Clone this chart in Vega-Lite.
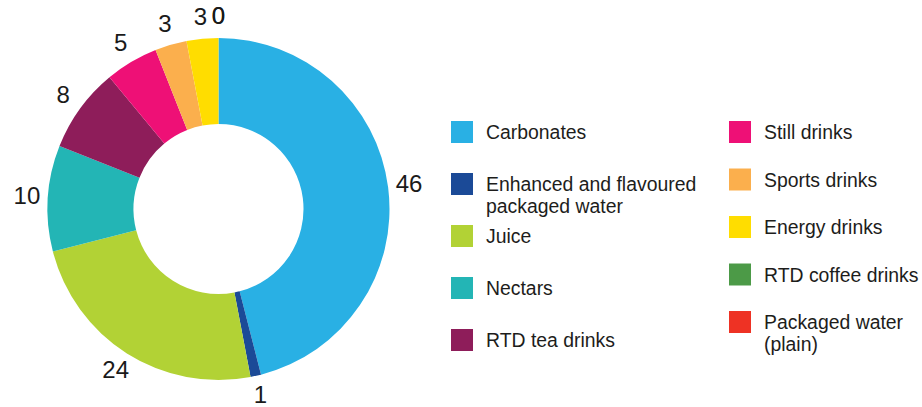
{
  "$schema": "https://vega.github.io/schema/vega-lite/v6.json",
  "padding": {"left": 0, "top": 5, "right": 0, "bottom": 0},
  "background": "white",
  "spacing": 0,
  "bounds": "flush",
  "config": {"view": {"stroke": null}, "font": "Liberation Sans"},
  "datasets": {
    "shares": [
      {"idx": 1, "category": "Carbonates", "value": 46},
      {"idx": 2, "category": "Enhanced and flavoured\npackaged water", "value": 1},
      {"idx": 3, "category": "Juice", "value": 24},
      {"idx": 4, "category": "Nectars", "value": 10},
      {"idx": 5, "category": "RTD tea drinks", "value": 8},
      {"idx": 6, "category": "Still drinks", "value": 5},
      {"idx": 7, "category": "Sports drinks", "value": 3},
      {"idx": 8, "category": "Energy drinks", "value": 3},
      {"idx": 9, "category": "RTD coffee drinks", "value": 0},
      {"idx": 10, "category": "Packaged water\n(plain)", "value": 0}
    ]
  },
  "hconcat": [
    {
      "width": 437,
      "height": 396,
      "data": {"name": "shares"},
      "encoding": {
        "theta": {"field": "value", "type": "quantitative", "stack": true},
        "order": {"field": "idx", "type": "quantitative"}
      },
      "layer": [
        {
          "mark": {"type": "arc", "outerRadius": 171, "innerRadius": 85},
          "encoding": {
            "color": {
              "field": "category",
              "type": "nominal",
              "scale": {
                "domain": ["Carbonates", "Enhanced and flavoured\npackaged water", "Juice", "Nectars", "RTD tea drinks", "Still drinks", "Sports drinks", "Energy drinks", "RTD coffee drinks", "Packaged water\n(plain)"],
                "range": ["#29B0E4", "#1B4A97", "#B2D235", "#23B5B5", "#8E1D5A", "#EE1076", "#FBAF4D", "#FFDD00", "#4C9A47", "#EE3224"]
              },
              "legend": null
            }
          }
        },
        {
          "mark": {"type": "text", "radius": 192, "fontSize": 24, "align": "center", "baseline": "middle", "color": "#1a1a1a"},
          "encoding": {
            "detail": {"field": "category", "type": "nominal"},
            "text": {"field": "value", "type": "quantitative"}
          }
        }
      ]
    },
    {
      "spacing": 228,
      "bounds": "flush",
      "hconcat": [
        {
          "width": 50,
          "height": 396,
          "data": {"name": "shares"},
          "transform": [{"filter": "datum.idx <= 5"}],
          "encoding": {
            "y": {
              "field": "category",
              "type": "nominal",
              "sort": ["Carbonates", "Enhanced and flavoured\npackaged water", "Juice", "Nectars", "RTD tea drinks"],
              "scale": {"type": "point", "padding": 0, "range": [121, 329]},
              "axis": null
            }
          },
          "layer": [
            {
              "mark": {"type": "square", "size": 484, "filled": true, "opacity": 1, "strokeWidth": 0},
              "encoding": {
                "color": {"field": "category", "type": "nominal", "legend": null}
              }
            },
            {
              "mark": {"type": "text", "align": "left", "baseline": "alphabetic", "dx": 24, "dy": 7, "fontSize": 19.4, "lineBreak": "\n", "lineHeight": 22, "color": "#1d1d1b"},
              "encoding": {"text": {"field": "category", "type": "nominal"}}
            }
          ]
        },
        {
          "width": 50,
          "height": 396,
          "data": {"name": "shares"},
          "transform": [{"filter": "datum.idx > 5"}],
          "encoding": {
            "y": {
              "field": "category",
              "type": "nominal",
              "sort": ["Still drinks", "Sports drinks", "Energy drinks", "RTD coffee drinks", "Packaged water\n(plain)"],
              "scale": {"type": "point", "padding": 0, "range": [121, 311]},
              "axis": null
            }
          },
          "layer": [
            {
              "mark": {"type": "square", "size": 484, "filled": true, "opacity": 1, "strokeWidth": 0},
              "encoding": {
                "color": {"field": "category", "type": "nominal", "legend": null}
              }
            },
            {
              "mark": {"type": "text", "align": "left", "baseline": "alphabetic", "dx": 24, "dy": 7, "fontSize": 19.4, "lineBreak": "\n", "lineHeight": 22, "color": "#1d1d1b"},
              "encoding": {"text": {"field": "category", "type": "nominal"}}
            }
          ]
        }
      ]
    }
  ]
}
